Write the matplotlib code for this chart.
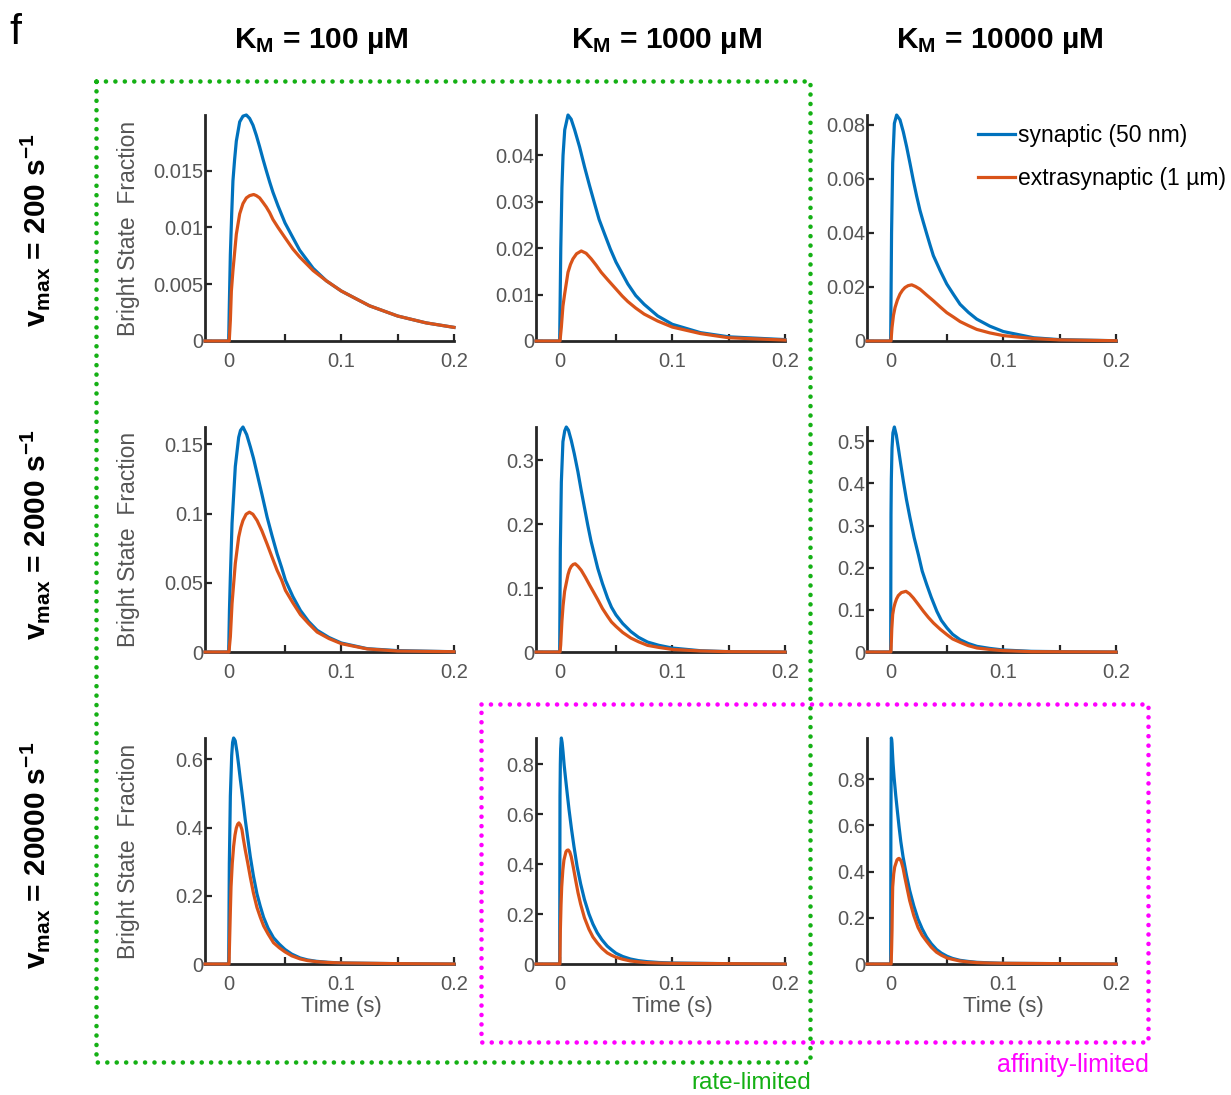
import matplotlib
matplotlib.use("Agg")
import matplotlib.pyplot as plt
from matplotlib.lines import Line2D

plt.rcParams['font.family'] = ['Liberation Sans', 'DejaVu Sans']
plt.rcParams['mathtext.fontset'] = 'custom'
plt.rcParams['mathtext.rm'] = 'Liberation Sans'
plt.rcParams['mathtext.bf'] = 'Liberation Sans:bold'
plt.rcParams['mathtext.default'] = 'bf'

# ---------------- data ----------------
km_labels = ["100", "1000", "10000"]
vmax_labels = ["200", "2000", "20000"]
series_names = ["synaptic (50 nm)", "extrasynaptic (1 µm)"]

# ---- vmax = 200 s^-1 ----
t_syn_200_100 = [-0.021, 0, 0.0006, 0.0015, 0.0027, 0.0038, 0.0053, 0.0068, 0.0098, 0.0127, 0.0157, 0.0186, 0.0216, 0.0246, 0.0275, 0.0305, 0.0334, 0.0364, 0.0393, 0.0438, 0.05, 0.057, 0.063, 0.075, 0.0867, 0.1, 0.125, 0.15, 0.175, 0.2]
v_syn_200_100 = [0, 0, 0.0032, 0.0076, 0.0112, 0.0141, 0.016, 0.0176, 0.0193, 0.0198, 0.0199, 0.0196, 0.0190, 0.0181, 0.0171, 0.016, 0.0150, 0.014, 0.0131, 0.0119, 0.0104, 0.0091, 0.0080, 0.0064, 0.0053, 0.0044, 0.0031, 0.0022, 0.0016, 0.0012]
t_ext_200_100 = [-0.021, 0.0005, 0.0015, 0.0024, 0.0038, 0.0068, 0.0098, 0.0127, 0.0157, 0.0186, 0.0222, 0.0246, 0.0275, 0.0305, 0.0334, 0.0364, 0.0393, 0.0438, 0.05, 0.057, 0.063, 0.075, 0.0867, 0.1, 0.125, 0.15, 0.175, 0.2]
v_ext_200_100 = [0, 0, 0.0018, 0.0044, 0.0062, 0.0094, 0.0112, 0.0121, 0.0126, 0.0128, 0.0129, 0.0128, 0.0126, 0.0122, 0.0118, 0.0113, 0.0107, 0.0100, 0.0091, 0.0081, 0.0074, 0.0062, 0.0053, 0.0044, 0.0031, 0.0022, 0.0016, 0.0012]

t_syn_200_1000 = [-0.021, 0, 0.001, 0.002, 0.003, 0.0045, 0.0074, 0.0102, 0.0133, 0.0177, 0.0221, 0.0265, 0.031, 0.035, 0.0398, 0.045, 0.05, 0.0605, 0.0675, 0.075, 0.087, 0.1, 0.125, 0.15, 0.2]
v_syn_200_1000 = [0, 0, 0.020, 0.033, 0.040, 0.0455, 0.0487, 0.0478, 0.0455, 0.0418, 0.0375, 0.0335, 0.0296, 0.0262, 0.0231, 0.0198, 0.0170, 0.0123, 0.0098, 0.0079, 0.0054, 0.0036, 0.0018, 0.0009, 0.0003]
t_ext_200_1000 = [-0.021, 0.0003, 0.0015, 0.0029, 0.0044, 0.0074, 0.0096, 0.0118, 0.015, 0.0192, 0.0235, 0.028, 0.0325, 0.0369, 0.043, 0.05, 0.0555, 0.0605, 0.0675, 0.075, 0.087, 0.1, 0.125, 0.15, 0.2]
v_ext_200_1000 = [0, 0, 0.003, 0.0075, 0.0101, 0.0148, 0.0165, 0.0177, 0.0188, 0.0194, 0.0189, 0.0177, 0.0163, 0.0148, 0.0131, 0.0112, 0.0097, 0.0085, 0.0071, 0.0058, 0.0043, 0.003, 0.0016, 0.0007, 0.0002]

t_syn_200_10000 = [-0.021, 0, 0.0005, 0.0008, 0.0018, 0.0033, 0.0053, 0.0083, 0.0112, 0.0142, 0.0172, 0.0201, 0.023, 0.026, 0.029, 0.032, 0.035, 0.0379, 0.044, 0.0498, 0.056, 0.0616, 0.069, 0.0764, 0.088, 0.1, 0.127, 0.15, 0.2]
v_syn_200_10000 = [0, 0, 0.025, 0.04, 0.066, 0.0806, 0.0837, 0.0819, 0.0775, 0.0719, 0.0657, 0.0595, 0.0538, 0.0484, 0.044, 0.0397, 0.0355, 0.0316, 0.026, 0.0211, 0.0171, 0.0136, 0.0106, 0.0081, 0.0055, 0.0035, 0.0012, 0.0005, 0.0001]
t_ext_200_10000 = [-0.021, 0.0003, 0.0012, 0.0025, 0.0039, 0.006, 0.0083, 0.0105, 0.0127, 0.0155, 0.0187, 0.022, 0.026, 0.032, 0.0379, 0.044, 0.0498, 0.056, 0.0616, 0.069, 0.0764, 0.088, 0.1, 0.127, 0.15, 0.2]
v_ext_200_10000 = [0, 0, 0.005, 0.0095, 0.0124, 0.0152, 0.0174, 0.0188, 0.0198, 0.0205, 0.0208, 0.0202, 0.0192, 0.017, 0.0149, 0.0126, 0.0105, 0.0088, 0.0072, 0.0057, 0.0043, 0.003, 0.002, 0.0009, 0.0004, 0.0001]

# ---- vmax = 2000 s^-1 ----
t_syn_2000_100 = [-0.021, 0, 0.0007, 0.0015, 0.003, 0.0059, 0.0089, 0.0105, 0.0127, 0.016, 0.0193, 0.022, 0.0252, 0.0295, 0.0341, 0.0385, 0.043, 0.047, 0.0504, 0.057, 0.0637, 0.071, 0.0785, 0.089, 0.1, 0.123, 0.15, 0.2]
v_syn_2000_100 = [0, 0, 0.03, 0.054, 0.093, 0.134, 0.155, 0.160, 0.1625, 0.157, 0.148, 0.140, 0.129, 0.114, 0.0975, 0.084, 0.071, 0.061, 0.0518, 0.040, 0.030, 0.022, 0.0157, 0.0105, 0.0065, 0.0024, 0.001, 0.0002]
t_ext_2000_100 = [-0.021, 0.0003, 0.0007, 0.0015, 0.003, 0.0059, 0.0089, 0.0108, 0.0127, 0.0155, 0.0184, 0.0215, 0.0252, 0.0295, 0.0341, 0.0385, 0.043, 0.047, 0.0504, 0.057, 0.0637, 0.071, 0.0785, 0.089, 0.1, 0.123, 0.15, 0.2]
v_ext_2000_100 = [0, 0, 0.004, 0.011, 0.035, 0.064, 0.083, 0.090, 0.095, 0.0995, 0.101, 0.0995, 0.095, 0.0875, 0.078, 0.0685, 0.059, 0.052, 0.0445, 0.0355, 0.027, 0.0205, 0.0144, 0.0097, 0.006, 0.0022, 0.0007, 0.0002]

t_syn_2000_1000 = [-0.021, 0, 0.0006, 0.0015, 0.0029, 0.0045, 0.0059, 0.0078, 0.0103, 0.013, 0.0162, 0.019, 0.0221, 0.025, 0.0279, 0.031, 0.0338, 0.038, 0.0426, 0.046, 0.05, 0.056, 0.0632, 0.07, 0.078, 0.088, 0.1, 0.125, 0.15, 0.2]
v_syn_2000_1000 = [0, 0, 0.162, 0.266, 0.329, 0.346, 0.352, 0.347, 0.331, 0.31, 0.282, 0.254, 0.225, 0.198, 0.173, 0.151, 0.131, 0.107, 0.084, 0.07, 0.058, 0.0445, 0.032, 0.023, 0.0156, 0.0105, 0.0062, 0.002, 0.0005, 0]
t_ext_2000_1000 = [-0.021, 0.0003, 0.0009, 0.002, 0.003, 0.0044, 0.0074, 0.0088, 0.0103, 0.012, 0.0138, 0.0163, 0.0191, 0.0228, 0.0265, 0.030, 0.0338, 0.038, 0.0426, 0.046, 0.05, 0.056, 0.0632, 0.07, 0.078, 0.088, 0.1, 0.125, 0.15, 0.2]
v_ext_2000_1000 = [0, 0, 0.011, 0.048, 0.072, 0.095, 0.121, 0.129, 0.134, 0.137, 0.138, 0.134, 0.128, 0.117, 0.105, 0.094, 0.082, 0.068, 0.0556, 0.047, 0.040, 0.0305, 0.0218, 0.016, 0.0104, 0.0072, 0.004, 0.0016, 0.0005, 0]

t_syn_2000_10000 = [-0.021, 0, 0.0003, 0.0006, 0.0012, 0.002, 0.0033, 0.005, 0.0068, 0.009, 0.0113, 0.014, 0.0172, 0.0208, 0.0246, 0.028, 0.032, 0.036, 0.041, 0.045, 0.05, 0.055, 0.0617, 0.069, 0.0766, 0.088, 0.1, 0.125, 0.15, 0.2]
v_syn_2000_10000 = [0, 0, 0.326, 0.41, 0.484, 0.52, 0.534, 0.515, 0.484, 0.445, 0.405, 0.362, 0.318, 0.272, 0.231, 0.192, 0.16, 0.13, 0.0965, 0.075, 0.057, 0.042, 0.029, 0.02, 0.0134, 0.0085, 0.0047, 0.0016, 0.0008, 0]
t_ext_2000_10000 = [-0.021, 0.0002, 0.0006, 0.001, 0.0018, 0.0028, 0.0039, 0.0052, 0.0068, 0.0095, 0.0136, 0.0168, 0.0202, 0.0245, 0.0291, 0.0335, 0.038, 0.044, 0.05, 0.055, 0.0617, 0.069, 0.0766, 0.088, 0.1, 0.125, 0.2]
v_ext_2000_10000 = [0, 0, 0.025, 0.055, 0.089, 0.105, 0.116, 0.126, 0.134, 0.141, 0.144, 0.138, 0.128, 0.113, 0.0965, 0.082, 0.0688, 0.054, 0.041, 0.031, 0.023, 0.015, 0.0095, 0.006, 0.0032, 0.0008, 0]

# ---- vmax = 20000 s^-1 ----
t_syn_20000_100 = [-0.021, 0, 0.0006, 0.0015, 0.0027, 0.0035, 0.0044, 0.0058, 0.0074, 0.0088, 0.0103, 0.0125, 0.0147, 0.017, 0.0192, 0.022, 0.0251, 0.028, 0.031, 0.035, 0.0398, 0.045, 0.05, 0.056, 0.0634, 0.07, 0.078, 0.088, 0.1, 0.15, 0.2]
v_syn_20000_100 = [0, 0, 0.295, 0.493, 0.612, 0.65, 0.663, 0.655, 0.622, 0.585, 0.543, 0.485, 0.424, 0.368, 0.315, 0.258, 0.206, 0.17, 0.137, 0.105, 0.077, 0.058, 0.0426, 0.029, 0.0178, 0.012, 0.0079, 0.005, 0.003, 0.001, 0]
t_ext_20000_100 = [-0.021, 0.0003, 0.0009, 0.0015, 0.0021, 0.0032, 0.0044, 0.0056, 0.0068, 0.008, 0.0091, 0.0104, 0.0118, 0.013, 0.0147, 0.017, 0.0192, 0.022, 0.0251, 0.028, 0.031, 0.035, 0.0398, 0.045, 0.05, 0.056, 0.0634, 0.07, 0.078, 0.088, 0.1, 0.15, 0.2]
v_ext_20000_100 = [0, 0, 0.077, 0.155, 0.226, 0.295, 0.345, 0.378, 0.399, 0.41, 0.414, 0.408, 0.394, 0.368, 0.335, 0.295, 0.255, 0.208, 0.166, 0.138, 0.112, 0.088, 0.0624, 0.0475, 0.0356, 0.024, 0.0149, 0.01, 0.0069, 0.0045, 0.003, 0.001, 0]

t_syn_20000_1000 = [-0.021, 0, 0.0003, 0.0006, 0.0009, 0.0015, 0.0022, 0.003, 0.004, 0.0053, 0.0068, 0.0083, 0.0105, 0.0127, 0.0155, 0.0186, 0.022, 0.026, 0.0295, 0.0333, 0.0375, 0.0422, 0.046, 0.05, 0.056, 0.0628, 0.07, 0.0776, 0.088, 0.1, 0.15, 0.2]
v_syn_20000_1000 = [0, 0, 0.672, 0.8, 0.861, 0.904, 0.885, 0.848, 0.795, 0.74, 0.678, 0.618, 0.54, 0.47, 0.39, 0.321, 0.258, 0.2, 0.16, 0.1255, 0.097, 0.0715, 0.057, 0.043, 0.03, 0.02, 0.0135, 0.0094, 0.006, 0.004, 0.0013, 0]
t_ext_20000_1000 = [-0.021, 0.0002, 0.0006, 0.0012, 0.0018, 0.0028, 0.0038, 0.0056, 0.0066, 0.0077, 0.009, 0.0103, 0.012, 0.0142, 0.0163, 0.0186, 0.022, 0.026, 0.0295, 0.0333, 0.0375, 0.0422, 0.046, 0.05, 0.056, 0.0628, 0.07, 0.0776, 0.088, 0.1, 0.15, 0.2]
v_ext_20000_1000 = [0, 0, 0.132, 0.235, 0.308, 0.375, 0.416, 0.449, 0.455, 0.456, 0.448, 0.429, 0.39, 0.335, 0.285, 0.24, 0.185, 0.139, 0.108, 0.085, 0.063, 0.0445, 0.035, 0.027, 0.019, 0.0121, 0.0085, 0.0054, 0.0038, 0.0027, 0.0013, 0]

t_syn_20000_10000 = [-0.021, 0, 0.0002, 0.0006, 0.0009, 0.0012, 0.0016, 0.0021, 0.003, 0.0045, 0.006, 0.0074, 0.009, 0.011, 0.014, 0.0169, 0.0205, 0.0243, 0.028, 0.0318, 0.036, 0.0407, 0.045, 0.05, 0.055, 0.0614, 0.069, 0.0766, 0.088, 0.1, 0.15, 0.2]
v_syn_20000_10000 = [0, 0, 0.6, 0.978, 0.972, 0.955, 0.915, 0.87, 0.81, 0.73, 0.66, 0.596, 0.53, 0.464, 0.385, 0.318, 0.252, 0.194, 0.152, 0.117, 0.088, 0.0628, 0.047, 0.0336, 0.024, 0.016, 0.011, 0.0073, 0.005, 0.003, 0.0015, 0]
t_ext_20000_10000 = [-0.021, 0.0004, 0.0008, 0.0012, 0.0015, 0.0018, 0.0027, 0.0036, 0.0056, 0.0065, 0.0074, 0.0085, 0.0095, 0.011, 0.0125, 0.0145, 0.0169, 0.0205, 0.0243, 0.028, 0.0318, 0.036, 0.0407, 0.045, 0.05, 0.055, 0.0614, 0.069, 0.0766, 0.088, 0.1, 0.15, 0.2]
v_ext_20000_10000 = [0, 0, 0.06, 0.143, 0.25, 0.333, 0.39, 0.42, 0.45, 0.455, 0.457, 0.452, 0.442, 0.415, 0.377, 0.33, 0.274, 0.21, 0.158, 0.124, 0.099, 0.073, 0.051, 0.038, 0.026, 0.02, 0.013, 0.009, 0.0058, 0.004, 0.003, 0.0015, 0]

# y tick values per row (vmax) and column (KM)
yticks_200 = [[0, 0.005, 0.01, 0.015], [0, 0.01, 0.02, 0.03, 0.04], [0, 0.02, 0.04, 0.06, 0.08]]
yticks_2000 = [[0, 0.05, 0.1, 0.15], [0, 0.1, 0.2, 0.3], [0, 0.1, 0.2, 0.3, 0.4, 0.5]]
yticks_20000 = [[0, 0.2, 0.4, 0.6], [0, 0.2, 0.4, 0.6, 0.8], [0, 0.2, 0.4, 0.6, 0.8]]
xticks_major = [0, 0.1, 0.2]
xticks_minor = [0.05, 0.15]

panels = [
    [(t_syn_200_100, v_syn_200_100, t_ext_200_100, v_ext_200_100),
     (t_syn_200_1000, v_syn_200_1000, t_ext_200_1000, v_ext_200_1000),
     (t_syn_200_10000, v_syn_200_10000, t_ext_200_10000, v_ext_200_10000)],
    [(t_syn_2000_100, v_syn_2000_100, t_ext_2000_100, v_ext_2000_100),
     (t_syn_2000_1000, v_syn_2000_1000, t_ext_2000_1000, v_ext_2000_1000),
     (t_syn_2000_10000, v_syn_2000_10000, t_ext_2000_10000, v_ext_2000_10000)],
    [(t_syn_20000_100, v_syn_20000_100, t_ext_20000_100, v_ext_20000_100),
     (t_syn_20000_1000, v_syn_20000_1000, t_ext_20000_1000, v_ext_20000_1000),
     (t_syn_20000_10000, v_syn_20000_10000, t_ext_20000_10000, v_ext_20000_10000)],
]
yticks_rows = [yticks_200, yticks_2000, yticks_20000]

# ---------------- layout ----------------
W, H = 1231, 1095
fig = plt.figure(figsize=(W / 100, H / 100), dpi=100)


def rect(l, t, r, b):
    return [l / W, 1 - b / H, (r - l) / W, (b - t) / H]


lefts = [205, 536, 867]
rights = [454, 785, 1116]
tops = [115, 427, 738]
bottoms = [341, 652, 964]

BLUE = '#0072BD'
ORANGE = '#D95319'
GRAY = '#555555'
AX = '#262626'
XMIN, XMAX = -0.021, 0.2

for r in range(3):
    for c in range(3):
        ax = fig.add_axes(rect(lefts[c], tops[r], rights[c], bottoms[r]))
        ts, vs, te, ve = panels[r][c]
        ax.plot(ts, vs, color=BLUE, lw=2.3, clip_on=False, solid_joinstyle='round', zorder=3,
                label=series_names[0])
        ax.plot(te, ve, color=ORANGE, lw=2.3, clip_on=False, solid_joinstyle='round', zorder=4,
                label=series_names[1])
        ax.set_xlim(XMIN, XMAX)
        ax.set_ylim(0, max(vs))
        for s in ['top', 'right']:
            ax.spines[s].set_visible(False)
        for s in ['left', 'bottom']:
            ax.spines[s].set_linewidth(2)
            ax.spines[s].set_color(AX)
        ax.set_xticks(xticks_major)
        ax.set_xticks(xticks_minor, minor=True)
        ax.set_xticklabels(['%g' % v for v in xticks_major])
        yt = yticks_rows[r][c]
        ax.set_yticks(yt)
        ax.set_yticklabels(['%g' % v for v in yt])
        ax.tick_params(which='both', direction='in', length=5, width=1.6, color=AX,
                       labelcolor=GRAY, labelsize=14.5)
        ax.tick_params(axis='x', which='both', pad=8)
        ax.tick_params(axis='y', which='both', pad=1.5)
        ax.set_facecolor('none')
        if c == 0:
            ax.set_ylabel('Bright State  Fraction', color=GRAY, fontsize=16.5)
            ax.yaxis.set_label_coords(-0.26, 0.5)
        if r == 2:
            ax.set_xlabel('Time (s)', color=GRAY, fontsize=16)
            ax.xaxis.set_label_coords((0.1 - XMIN) / (XMAX - XMIN), -0.14)
        if r == 0 and c == 2:
            ax.legend(loc='upper left', bbox_to_anchor=(0.41, 1.0), frameon=False,
                      fontsize=16.5, handlelength=1.6, handletextpad=0.12,
                      labelspacing=0.85, borderaxespad=0)

# column titles
title_x = [321, 666, 1000]
for c in range(3):
    fig.text(title_x[c] / W, 1 - 41 / H, 'K$_{M}$ = %s µM' % km_labels[c],
             ha='center', va='center', fontsize=21.5, fontweight='bold')

# row labels
row_y = [230, 535, 855]
for r in range(3):
    fig.text(35 / W, 1 - row_y[r] / H, 'v$_{max}$ = %s s$^{-1}$' % vmax_labels[r],
             ha='center', va='center', rotation=90, fontsize=21.5, fontweight='bold')

# panel letter
fig.text(9 / W, 1 - 33 / H, 'f', ha='left', va='center', fontsize=31)

# dotted boxes


def dotted_box(l, t, r, b, color):
    xs = [l / W, r / W, r / W, l / W, l / W]
    ys = [1 - t / H, 1 - t / H, 1 - b / H, 1 - b / H, 1 - t / H]
    fig.add_artist(Line2D(xs, ys, transform=fig.transFigure, color=color, lw=3.3,
                          linestyle=(0, (0.01, 2.05)), dash_capstyle='round'))


GREEN = '#14b014'
MAGENTA = '#ff00ff'
dotted_box(96, 81, 810, 1062, GREEN)
dotted_box(481, 704, 1148, 1042, MAGENTA)

fig.text(811 / W, 1 - 1083 / H, 'rate-limited', color=GREEN, ha='right', va='center', fontsize=17.5)
fig.text(1149 / W, 1 - 1065 / H, 'affinity-limited', color=MAGENTA, ha='right', va='center', fontsize=18)

fig.savefig('out.png', dpi=100)
